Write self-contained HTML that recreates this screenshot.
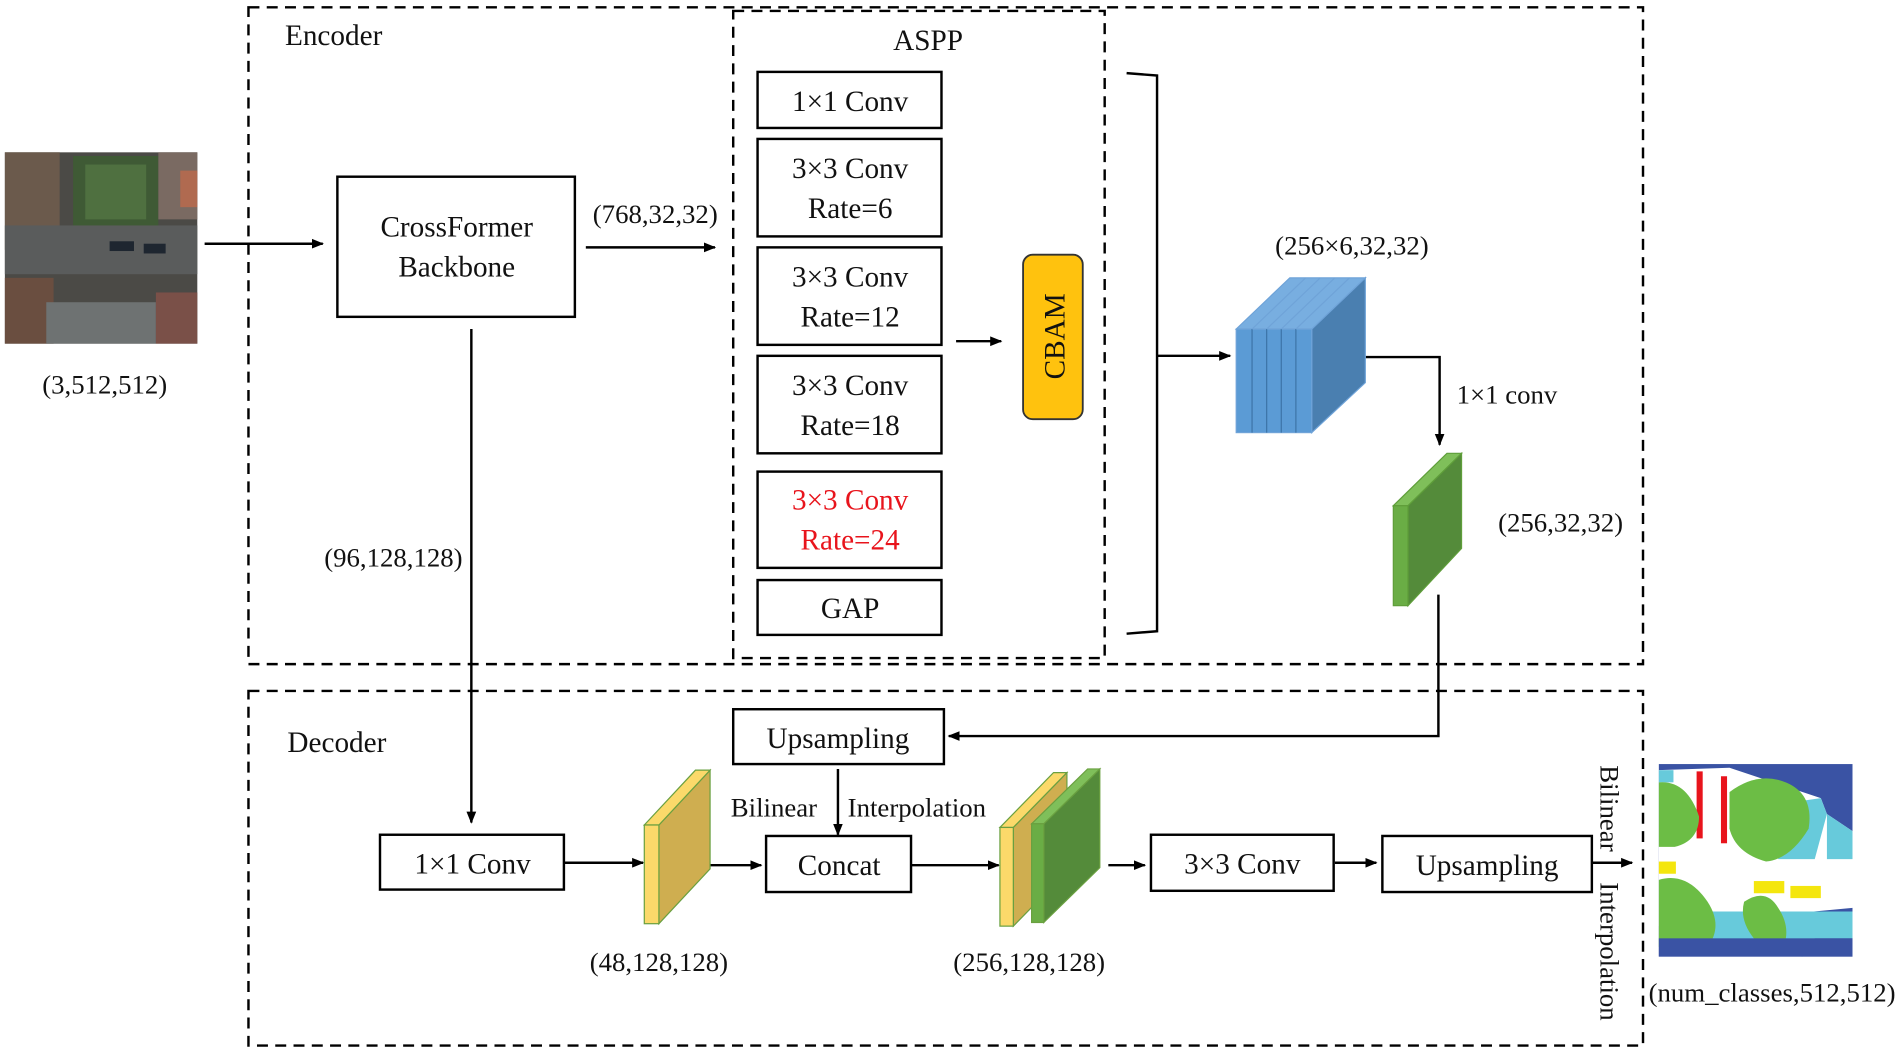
<!DOCTYPE html>
<html><head><meta charset="utf-8"><style>
html,body{margin:0;padding:0;background:#fff;}
svg{display:block;}
text{font-family:"Liberation Serif",serif;fill:#111;}
</style></head><body>
<svg width="1900" height="1048" viewBox="0 0 1560 860" preserveAspectRatio="none" xmlns="http://www.w3.org/2000/svg">
<defs>
<marker id="a" markerWidth="10" markerHeight="10" refX="9" refY="5" orient="auto" markerUnits="userSpaceOnUse"><path d="M0,1 L10,5 L0,9 Z" fill="#000"/></marker>
</defs>
<g fill="none" stroke="#000" stroke-width="2" stroke-dasharray="9,6">
<rect x="204" y="6" width="1145" height="539"/>
<rect x="602" y="9" width="305" height="531"/>
<rect x="204" y="567" width="1145" height="291"/>
</g>
<g font-size="24">
<text x="234" y="37">Encoder</text>
<text x="762" y="41" text-anchor="middle">ASPP</text>
<text x="236" y="617">Decoder</text>
</g>
<g>
<rect x="4" y="125" width="158" height="157" fill="#4b4a46"/>
<rect x="4" y="125" width="45" height="80" fill="#6b5a4c"/>
<rect x="60" y="128" width="70" height="62" fill="#3f5a35"/>
<rect x="70" y="135" width="50" height="45" fill="#4f7040"/>
<rect x="130" y="125" width="32" height="55" fill="#7a6a62"/>
<rect x="148" y="140" width="14" height="30" fill="#b06a50"/>
<rect x="4" y="185" width="158" height="40" fill="#5a5c5c"/>
<rect x="4" y="228" width="40" height="54" fill="#6a4e40"/>
<rect x="38" y="248" width="90" height="34" fill="#6e7272"/>
<rect x="128" y="240" width="34" height="42" fill="#7a5048"/>
<rect x="90" y="198" width="20" height="8" fill="#1e2630"/>
<rect x="118" y="200" width="18" height="8" fill="#1e2630"/>
</g>
<text x="86" y="323" font-size="22" text-anchor="middle">(3,512,512)</text>
<g stroke="#000" stroke-width="2" fill="none">
<line x1="168" y1="200" x2="265" y2="200" marker-end="url(#a)"/>
<rect x="277" y="145" width="195" height="115"/>
<line x1="481" y1="203" x2="587" y2="203" marker-end="url(#a)"/>
<rect x="622" y="59" width="151" height="46"/>
<rect x="622" y="114" width="151" height="80"/>
<rect x="622" y="203" width="151" height="80"/>
<rect x="622" y="292" width="151" height="80"/>
<rect x="622" y="387" width="151" height="79"/>
<rect x="622" y="476" width="151" height="45"/>
<line x1="785" y1="280" x2="822" y2="280" marker-end="url(#a)"/>
<path d="M925,60 L950,62 L950,518 L925,520"/>
<line x1="950" y1="292" x2="1010" y2="292" marker-end="url(#a)"/>
<path d="M1097,293 L1182,293 L1182,365" marker-end="url(#a)"/>
<path d="M1181,488 L1181,604 L779,604" marker-end="url(#a)"/>
<line x1="387" y1="270" x2="387" y2="675" marker-end="url(#a)"/>
<rect x="602" y="582" width="173" height="45"/>
<line x1="688" y1="631" x2="688" y2="685" marker-end="url(#a)"/>
<rect x="312" y="685" width="151" height="45"/>
<line x1="463" y1="708" x2="528" y2="708" marker-end="url(#a)"/>
<line x1="558" y1="710" x2="625" y2="710" marker-end="url(#a)"/>
<rect x="629" y="686" width="119" height="46"/>
<line x1="748" y1="710" x2="820" y2="710" marker-end="url(#a)"/>
<line x1="910" y1="710" x2="940" y2="710" marker-end="url(#a)"/>
<rect x="945" y="685" width="150" height="46"/>
<line x1="1096" y1="708" x2="1130" y2="708" marker-end="url(#a)"/>
<rect x="1135" y="686" width="172" height="46"/>
<line x1="1307" y1="708" x2="1340" y2="708" marker-end="url(#a)"/>
</g>
<g font-size="24" text-anchor="middle">
<text x="375" y="194">CrossFormer</text>
<text x="375" y="227">Backbone</text>
<text x="538" y="183" font-size="22">(768,32,32)</text>
<text x="698" y="91">1×1 Conv</text>
<text x="698" y="146">3×3 Conv</text>
<text x="698" y="179">Rate=6</text>
<text x="698" y="235">3×3 Conv</text>
<text x="698" y="268">Rate=12</text>
<text x="698" y="324">3×3 Conv</text>
<text x="698" y="357">Rate=18</text>
<text x="698" y="418" style="fill:#e8141c">3×3 Conv</text>
<text x="698" y="451" style="fill:#e8141c">Rate=24</text>
<text x="698" y="507">GAP</text>
<text x="688" y="614">Upsampling</text>
<text x="388" y="717">1×1 Conv</text>
<text x="689" y="718">Concat</text>
<text x="1020" y="717">3×3 Conv</text>
<text x="1221" y="718">Upsampling</text>
</g>
<rect x="840" y="209" width="49" height="135" rx="8" fill="#FFC20E" stroke="#333" stroke-width="1.5"/>
<text transform="translate(874,276) rotate(-90)" font-size="24" text-anchor="middle">CBAM</text>
<g stroke="#6fa3d8" stroke-width="1">
<polygon points="1077,270 1121,228 1121,314 1077,355" fill="#4a7fb0"/>
<polygon points="1015,270 1059,228 1121,228 1077,270" fill="#78aee0"/>
<rect x="1015" y="270" width="62" height="85" fill="#5b9bd5"/>
<line x1="1028" y1="270" x2="1028" y2="355" stroke="#3d74a8"/>
<line x1="1040" y1="270" x2="1040" y2="355" stroke="#3d74a8"/>
<line x1="1052" y1="270" x2="1052" y2="355" stroke="#3d74a8"/>
<line x1="1064" y1="270" x2="1064" y2="355" stroke="#3d74a8"/>
<line x1="1028" y1="270" x2="1072" y2="228"/>
<line x1="1040" y1="270" x2="1084" y2="228"/>
<line x1="1052" y1="270" x2="1096" y2="228"/>
<line x1="1064" y1="270" x2="1108" y2="228"/>
</g>
<text x="1110" y="209" font-size="22" text-anchor="middle">(256×6,32,32)</text>
<text x="1196" y="331" font-size="22">1×1 conv</text>
<g stroke="#5f9e3a" stroke-width="1">
<polygon points="1156,415 1200,372 1200,450 1156,497" fill="#548b3a"/>
<polygon points="1144,415 1188,372 1200,372 1156,415" fill="#7fbf5a"/>
<rect x="1144" y="415" width="12" height="82" fill="#6aad45"/>
</g>
<text x="1230" y="436" font-size="22">(256,32,32)</text>
<text x="323" y="465" font-size="22" text-anchor="middle">(96,128,128)</text>
<text x="600" y="670" font-size="22">Bilinear</text>
<text x="696" y="670" font-size="22">Interpolation</text>
<g stroke="#6aa040" stroke-width="1">
<polygon points="541,677 583,632 583,713 541,758" fill="#cfae50"/>
<polygon points="529,677 571,632 583,632 541,677" fill="#fbd96a"/>
<rect x="529" y="677" width="12" height="81" fill="#fbd96a"/>
</g>
<text x="541" y="797" font-size="22" text-anchor="middle">(48,128,128)</text>
<g stroke="#6aa040" stroke-width="1">
<polygon points="832,679 876,634 876,715 832,760" fill="#cfae50"/>
<polygon points="821,679 865,634 876,634 832,679" fill="#fbd96a"/>
<rect x="821" y="679" width="11" height="81" fill="#fbd96a"/>
<polygon points="857,676 903,631 903,712 857,757" fill="#548b3a"/>
<polygon points="847,676 893,631 903,631 857,676" fill="#7fbf5a"/>
<rect x="847" y="676" width="10" height="81" fill="#6aad45"/>
</g>
<text x="845" y="797" font-size="22" text-anchor="middle">(256,128,128)</text>
<text transform="translate(1314,628) rotate(90)" font-size="22">Bilinear</text>
<text transform="translate(1314,724) rotate(90)" font-size="22">Interpolation</text>
<g>
<rect x="1362" y="627" width="159" height="158" fill="#3a53a4"/>
<polygon points="1362,632 1420,630 1495,655 1500,668 1521,682 1521,745 1362,760" fill="#fff"/>
<polygon points="1460,660 1495,655 1500,668 1490,705 1460,705" fill="#67cadb"/>
<polygon points="1500,668 1521,682 1521,705 1500,705" fill="#67cadb"/>
<rect x="1362" y="632" width="12" height="10" fill="#67cadb"/>
<rect x="1393" y="633" width="5" height="55" fill="#e8141c"/>
<rect x="1413" y="637" width="5" height="55" fill="#e8141c"/>
<path d="M1362,642 Q1385,640 1395,670 Q1395,690 1375,695 L1362,695 Z" fill="#6cbd45"/>
<path d="M1420,650 Q1440,635 1460,640 Q1490,648 1485,680 Q1470,705 1450,707 Q1425,700 1420,680 Z" fill="#6cbd45"/>
<rect x="1362" y="707" width="14" height="10" fill="#f4e60e"/>
<rect x="1440" y="723" width="25" height="10" fill="#f4e60e"/>
<rect x="1470" y="727" width="25" height="10" fill="#f4e60e"/>
<path d="M1395,748 L1521,748 L1521,770 L1490,770 L1480,785 L1440,782 L1395,778 Z" fill="#67cadb"/>
<path d="M1362,722 Q1385,715 1402,740 Q1415,760 1402,777 L1362,777 Z" fill="#6cbd45"/>
<path d="M1432,740 Q1450,728 1460,745 Q1470,760 1465,775 Q1450,780 1440,770 Q1428,755 1432,740 Z" fill="#6cbd45"/>
<rect x="1362" y="770" width="159" height="15" fill="#3a53a4"/>
</g>
<text x="1455" y="822" font-size="22" text-anchor="middle">(num_classes,512,512)</text>
</svg>
</body></html>
